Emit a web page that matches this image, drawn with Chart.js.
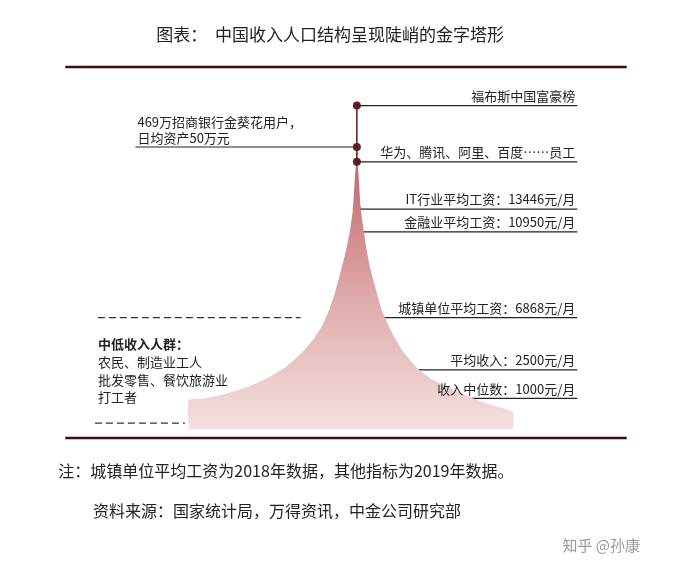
<!DOCTYPE html>
<html><head><meta charset="utf-8">
<script src="https://cdn.jsdelivr.net/npm/chart.js@4"></script>
<style>body{margin:0;background:#fff}#wrap{width:691px;height:579px}</style>
</head><body><div id="wrap"><canvas id="c"></canvas></div>
<script>
// pyramid centre and outline (half-widths at each level)
const centreX = 357;
const leftLevels = [208, 230, 250, 270, 292, 310, 326, 340, 354, 368, 380, 390, 396, 400, 402];
const leftOffsets = [4, 7, 11, 16, 22, 28, 35, 44, 56, 72, 92, 115, 135, 155, 170];
const rightLevels = [208, 230, 250, 270, 292, 310, 326, 340, 354, 368, 380, 390, 400, 408, 414];
const rightOffsets = [4, 7, 10, 14, 20, 25, 32, 39, 48, 60, 75, 95, 118, 140, 158];
const baseLevel = 431;
const apexTop = 100;

// markers and their labels
const markerLevels = [103, 145, 160, 208, 231, 318, 371, 400];
const markerLabels = ['福布斯中国富豪榜', '', '华为、腾讯、阿里、百度……员工', 'IT行业平均工资：13446元/月',
  '金融业平均工资：10950元/月', '城镇单位平均工资：6868元/月', '平均收入：2500元/月', '收入中位数：1000元/月'];
const rightLineEnd = 580;
const leftLineEnd = 133;
const leftLabel = ['469万招商银行金葵花用户，', '日均资产50万元'];
const lowGroup = ['中低收入人群：', '农民、制造业工人', '批发零售、餐饮旅游业', '打工者'];

const pts = [{x: centreX - leftOffsets[leftOffsets.length - 1], y: baseLevel}];
for (let i = leftLevels.length - 1; i >= 0; i--) pts.push({x: centreX - leftOffsets[i], y: leftLevels[i]});
pts.push({x: centreX - 1, y: 165});
pts.push({x: centreX + 1, y: 165});
for (let i = 0; i < rightLevels.length; i++) pts.push({x: centreX + rightOffsets[i], y: rightLevels[i]});
pts.push({x: centreX + rightOffsets[rightOffsets.length - 1], y: baseLevel});

const dark = '#3d0c10';
const datasets = [{
  data: pts, showLine: true, pointRadius: 0, borderWidth: 0, tension: 0.2, fill: 'shape',
  backgroundColor: ctx => {
    const a = ctx.chart.chartArea; if (!a) return '#e0a8a8';
    const y = ctx.chart.scales.y;
    const g = ctx.chart.ctx.createLinearGradient(0, y.getPixelForValue(165), 0, y.getPixelForValue(baseLevel));
    g.addColorStop(0, '#c46a6e'); g.addColorStop(0.5, '#deaaab'); g.addColorStop(1, '#f4e0e0');
    return g;
  }
}, {
  data: [{x: centreX, y: apexTop}, {x: centreX, y: 165}], showLine: true, pointRadius: 0, borderColor: '#5a1a1e', borderWidth: 1.5
}];
markerLevels.forEach((lv, i) => {
  if (markerLabels[i]) datasets.push({data: [{x: centreX, y: lv}, {x: rightLineEnd, y: lv}], showLine: true, pointRadius: 0, borderColor: '#222', borderWidth: 1.2});
});
datasets.push({data: [{x: leftLineEnd, y: 145}, {x: centreX, y: 145}], showLine: true, pointRadius: 0, borderColor: '#222', borderWidth: 1.2});
datasets.push({data: [{x: 95, y: 318}, {x: 300, y: 318}], showLine: true, pointRadius: 0, borderColor: '#333', borderWidth: 1.2, borderDash: [7, 4]});
datasets.push({data: [{x: 92, y: 425}, {x: 183, y: 425}], showLine: true, pointRadius: 0, borderColor: '#333', borderWidth: 1.2, borderDash: [7, 4]});
datasets.push({data: [{x: 62, y: 64}, {x: 630, y: 64}], showLine: true, pointRadius: 0, borderColor: dark, borderWidth: 2.5});
datasets.push({data: [{x: 62, y: 440}, {x: 630, y: 440}], showLine: true, pointRadius: 0, borderColor: dark, borderWidth: 2.5});
datasets.push({data: markerLevels.map(lv => ({x: centreX, y: lv})), pointRadius: 4, pointBackgroundColor: '#6b1f24', pointBorderWidth: 0});

const F = '"Noto Sans CJK SC", sans-serif';
const textPlugin = {
  id: 'texts',
  afterDatasetsDraw(chart) {
    const c = chart.ctx, sx = chart.scales.x, sy = chart.scales.y;
    const put = (t, x, y, font, align, color) => {
      c.font = font; c.textAlign = align || 'left'; c.fillStyle = color || '#222'; c.textBaseline = 'alphabetic';
      c.fillText(t, sx.getPixelForValue(x), sy.getPixelForValue(y));
    };
    c.save();
    put('图表：  中国收入人口结构呈现陡峭的金字塔形', 330, 38, '17px ' + F, 'center');
    markerLevels.forEach((lv, i) => { if (markerLabels[i]) put(markerLabels[i], 578, lv - 5, '13px ' + F, 'right'); });
    put(leftLabel[0], 135, 125, '13px ' + F);
    put(leftLabel[1], 135, 141, '13px ' + F);
    put(lowGroup[0], 95, 350, 'bold 13px ' + F);
    for (let i = 1; i < lowGroup.length; i++) put(lowGroup[i], 95, 350 + i * 18, '13px ' + F);
    put('注：城镇单位平均工资为2018年数据，其他指标为2019年数据。', 55, 480, '16px ' + F);
    put('资料来源：国家统计局，万得资讯，中金公司研究部', 90, 520, '16px ' + F);
    put('知乎 @孙康', 565, 555, '15px ' + F, 'left', '#999');
    c.restore();
  }
};

new Chart(document.getElementById('c'), {
  type: 'scatter',
  data: {datasets},
  options: {
    responsive: true, maintainAspectRatio: false, animation: false,
    layout: {padding: 0},
    plugins: {legend: {display: false}, tooltip: {enabled: false}},
    scales: {
      x: {type: 'linear', min: 0, max: 691, display: false},
      y: {type: 'linear', min: 0, max: 579, reverse: true, display: false}
    }
  },
  plugins: [textPlugin]
});
</script></body></html>
